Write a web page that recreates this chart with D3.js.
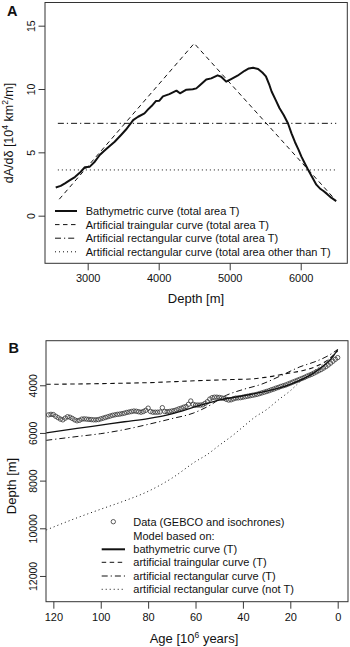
<!DOCTYPE html>
<html>
<head>
<meta charset="utf-8">
<script src="https://cdn.jsdelivr.net/npm/d3@7"></script>
<style>
  body { margin: 0; background: white; }
  svg { display: block; }
  text { font-family: "Liberation Sans", Arial, Helvetica, sans-serif; fill: #111; }
</style>
</head>
<body>
<div id="container"></div>
<script>
let w = 350;
let h = 647;

// PANEL A DATA: depth [m], dA/d-delta [10^4 km^2/m]
let bathyDepth = [2550,2620,2680,2750,2820,2900,2960,3030,3100,3170,3230,3290,3380,3470,3540,3590,3640,3710,3800,3860,3900,3960,4010,4060,4150,4250,4300,4390,4480,4530,4580,4670,4740,4830,4880,4950,5020,5110,5210,5270,5330,5400,5460,5510,5560,5590,5650,5700,5760,5820,5870,5920,5970,6010,6060,6100,6170,6220,6270,6320,6370,6430,6500];
let bathyValue = [2.23,2.35,2.55,2.8,3.05,3.45,3.82,3.87,4.26,4.79,5.1,5.4,5.84,6.37,6.8,7.16,7.55,7.81,8.08,8.45,8.65,9.05,9.08,9.42,9.6,9.87,9.66,9.95,9.98,10.05,10.3,10.75,10.84,11.08,10.97,10.58,10.78,11.05,11.44,11.62,11.68,11.58,11.3,11.0,10.3,9.8,9.1,8.5,7.95,7.3,6.5,5.8,5.2,4.66,4.1,3.66,2.95,2.45,2.15,1.95,1.72,1.42,1.15];
let triDepth = [2600,4500,6480];
let triValue = [1.3,13.6,1.3];
let rectDepth = [2580,6500];
let rectTValue = 7.29;
let rectNotTValue = 3.61;
let xTicksA = [3000,4000,5000,6000];
let yTicksA = [0,5,10,15];
let legendA = [
  "Bathymetric curve (total area T)",
  "Artificial traingular curve (total area T)",
  "Artificial rectangular curve (total area T)",
  "Artificial rectangular curve (total area other than T)"
];

// PANEL B DATA: age [10^6 years], depth [m]
let dataAge = d3.range(122, -1, -1);
let dataDepth = [5240,5220,5230,5300,5360,5420,5450,5380,5320,5340,5390,5450,5490,5470,5420,5410,5420,5430,5440,5450,5450,5440,5410,
  5380,5350,5320,5290,5260,5240,5220,5210,5190,5170,5140,5120,5100,5080,5090,5110,5130,5100,5050,4960,5100,5130,5130,5130,5120,4940,
  5100,5110,5100,5080,5060,5030,4990,4960,4920,4890,4800,4660,4800,4830,4830,4830,4820,4760,4690,4580,4520,4500,4500,4510,4530,4550,
  4590,4620,4610,4570,4540,4530,4520,4500,4480,4460,4440,4420,4400,4380,4350,4320,4290,4260,4230,4190,4160,4120,4090,4050,4020,3990,
  3950,3910,3870,3830,3790,3750,3710,3670,3620,3580,3540,3490,3440,3390,3340,3280,3220,3150,3070,2990,2910,2840];
let bathyModelAge = [123,110,100,90,80,70,60,50,40,30,20,10,5,2,0];
let bathyModelDepth = [6000,5810,5670,5530,5400,5200,4900,4620,4440,4250,3960,3480,3100,2800,2500];
let triModelAge = [123,100,80,60,45,37,30,20,15,9,3,0];
let triModelDepth = [3960,3930,3890,3810,3760,3740,3660,3480,3390,3200,2850,2560];
let rectModelAge = [123,110,100,90,80,70,61,55,47,40,32,24,16,9,4,0];
let rectModelDepth = [6310,6150,6030,5860,5640,5400,5170,4900,4420,4180,3950,3600,3230,2990,2760,2500];
let notTModelAge = [123,110,100,90,80,70,60,55,50,44,40,35,30,25,20,16,12,8,4,0];
let notTModelDepth = [10070,9560,9200,8850,8450,7900,7200,6900,6520,6080,5750,5340,5020,4610,4230,3860,3550,3250,2920,2520];
let xTicksB = [120,100,80,60,40,20,0];
let yTicksB = [4000,6000,8000,10000,12000];
let legendB = [
  "Data (GEBCO and isochrones)",
  "Model based on:",
  "bathymetric curve (T)",
  "artificial traingular curve (T)",
  "artificial rectangular curve (T)",
  "artificial rectangular curve (not T)"
];

let dashStyles = [null, "4.5,3.5", "6,3,1.2,3", "1,3"];

let viz = d3.select("#container").append("svg")
    .attr("width", w)
    .attr("height", h)
;

function styleAxis(g, fontSize) {
  g.select(".domain").remove();
  g.selectAll("line").attr("stroke", "#222").attr("stroke-width", 0.9);
  g.selectAll("text").attr("font-size", fontSize).attr("fill", "#111")
    .style("font-family", "'Liberation Sans', Arial, sans-serif");
}

// ---------------- PANEL A ----------------
let xA = d3.scaleLinear().domain([2399, 6656]).range([45, 347.3]);
let yA = d3.scaleLinear().domain([-3.76, 16.83]).range([263.3, 2.5]);

let axA = viz.append("g").attr("transform", "translate(0,263.3)")
  .call(d3.axisBottom(xA).tickValues(xTicksA).tickSize(7).tickPadding(4).tickFormat(d3.format("d")));
styleAxis(axA, 11);

let ayA = viz.append("g").attr("transform", "translate(45,0)")
  .call(d3.axisLeft(yA).tickValues(yTicksA).tickSize(6.5));
styleAxis(ayA, 10.5);
ayA.selectAll("text")
  .attr("transform", "rotate(-90)")
  .attr("x", 0).attr("y", -10).attr("dy", 0)
  .attr("text-anchor", "middle");

let lineA = d3.line().x(d => xA(d[0])).y(d => yA(d[1]));

viz.append("path")
  .datum(d3.zip(rectDepth, [rectNotTValue, rectNotTValue]))
  .attr("d", lineA).attr("fill", "none").attr("stroke", "#111").attr("stroke-width", 1)
  .attr("stroke-dasharray", dashStyles[3]);
viz.append("path")
  .datum(d3.zip(rectDepth, [rectTValue, rectTValue]))
  .attr("d", lineA).attr("fill", "none").attr("stroke", "#111").attr("stroke-width", 1)
  .attr("stroke-dasharray", dashStyles[2]);
viz.append("path")
  .datum(d3.zip(triDepth, triValue))
  .attr("d", lineA).attr("fill", "none").attr("stroke", "#111").attr("stroke-width", 1)
  .attr("stroke-dasharray", dashStyles[1]);
viz.append("path")
  .datum(d3.zip(bathyDepth, bathyValue))
  .attr("d", lineA).attr("fill", "none").attr("stroke", "#111").attr("stroke-width", 2)
  .attr("stroke-linejoin", "round");

viz.append("rect")
  .attr("x", 45).attr("y", 2.5).attr("width", 302.3).attr("height", 260.8)
  .attr("fill", "none").attr("stroke", "#333").attr("stroke-width", 1);

// legend A
let legA = viz.append("g");
legendA.forEach(function(t, i) {
  let yy = 211 + i * 13.6;
  legA.append("line")
    .attr("x1", 55).attr("x2", 77).attr("y1", yy).attr("y2", yy)
    .attr("stroke", "#111").attr("stroke-width", i == 0 ? 2 : 1)
    .attr("stroke-dasharray", dashStyles[i]);
  legA.append("text").attr("x", 85.7).attr("y", yy).attr("dy", "0.36em")
    .attr("font-size", 11).text(t);
});

viz.append("text").attr("x", 196).attr("y", 303).attr("text-anchor", "middle")
  .attr("font-size", 13).text("Depth [m]");

let ytA = viz.append("text")
  .attr("transform", "translate(13,133) rotate(-90)")
  .attr("text-anchor", "middle").attr("font-size", 12.5);
ytA.append("tspan").text("dA/d\u03b4 [10");
ytA.append("tspan").attr("font-size", 8.5).attr("dy", -5).text("4");
ytA.append("tspan").attr("dy", 5).text(" km");
ytA.append("tspan").attr("font-size", 8.5).attr("dy", -5).text("2");
ytA.append("tspan").attr("dy", 5).text("/m]");

viz.append("text").attr("x", 7).attr("y", 15.5).attr("font-size", 14.5)
  .attr("font-weight", "bold").text("A");

// ---------------- PANEL B ----------------
let xB = d3.scaleLinear().domain([123.1, -4.35]).range([46, 348]);
let yB = d3.scaleLinear().domain([2130, 13080]).range([340.7, 601.7]);

let axB = viz.append("g").attr("transform", "translate(0,601.7)")
  .call(d3.axisBottom(xB).tickValues(xTicksB).tickSize(7).tickPadding(5));
styleAxis(axB, 11);

let ayB = viz.append("g").attr("transform", "translate(46,0)")
  .call(d3.axisLeft(yB).tickValues(yTicksB).tickSize(6).tickFormat(d3.format("d")));
styleAxis(ayB, 10.5);
ayB.selectAll("text")
  .attr("transform", "rotate(-90)")
  .attr("x", 0).attr("y", -9.5).attr("dy", 0)
  .attr("text-anchor", "middle");

let lineB = d3.line().x(d => xB(d[0])).y(d => yB(d[1])).curve(d3.curveMonotoneX);

viz.append("path")
  .datum(d3.zip(notTModelAge, notTModelDepth))
  .attr("d", lineB).attr("fill", "none").attr("stroke", "#111").attr("stroke-width", 1)
  .attr("stroke-dasharray", dashStyles[3]);
viz.append("path")
  .datum(d3.zip(rectModelAge, rectModelDepth))
  .attr("d", lineB).attr("fill", "none").attr("stroke", "#111").attr("stroke-width", 1)
  .attr("stroke-dasharray", dashStyles[2]);
viz.append("path")
  .datum(d3.zip(triModelAge, triModelDepth))
  .attr("d", lineB).attr("fill", "none").attr("stroke", "#111").attr("stroke-width", 1.1)
  .attr("stroke-dasharray", dashStyles[1]);

viz.append("g").selectAll("circle")
  .data(d3.zip(dataAge, dataDepth)).enter()
  .append("circle")
    .attr("cx", d => xB(d[0]))
    .attr("cy", d => yB(d[1]))
    .attr("r", 2.2)
    .attr("fill", "none")
    .attr("stroke", "#333")
    .attr("stroke-width", 0.8)
;

viz.append("path")
  .datum(d3.zip(bathyModelAge, bathyModelDepth))
  .attr("d", lineB).attr("fill", "none").attr("stroke", "#111").attr("stroke-width", 1.3);

viz.append("rect")
  .attr("x", 46).attr("y", 340.7).attr("width", 302).attr("height", 261)
  .attr("fill", "none").attr("stroke", "#333").attr("stroke-width", 1);

// legend B
let legRowsB = [521.7, 535.7, 549.3, 562.3, 576, 589.3];
let legB = viz.append("g");
legendB.forEach(function(t, i) {
  let yy = legRowsB[i];
  if (i == 0) {
    legB.append("circle").attr("cx", 113.3).attr("cy", yy).attr("r", 2.2)
      .attr("fill", "none").attr("stroke", "#333").attr("stroke-width", 0.8);
  } else if (i > 1) {
    legB.append("line")
      .attr("x1", 101.7).attr("x2", 125).attr("y1", yy).attr("y2", yy)
      .attr("stroke", "#111").attr("stroke-width", i == 2 ? 2 : 1)
      .attr("stroke-dasharray", dashStyles[i - 2]);
  }
  legB.append("text").attr("x", 133.3).attr("y", yy).attr("dy", "0.36em")
    .attr("font-size", 11).text(t);
});

let xtB = viz.append("text").attr("x", 194).attr("y", 642.5)
  .attr("text-anchor", "middle").attr("font-size", 13);
xtB.append("tspan").text("Age [10");
xtB.append("tspan").attr("font-size", 8.5).attr("dy", -5).text("6");
xtB.append("tspan").attr("dy", 5).text(" years]");

viz.append("text")
  .attr("transform", "translate(15.5,486) rotate(-90)")
  .attr("text-anchor", "middle").attr("font-size", 13).text("Depth [m]");

viz.append("text").attr("x", 8.5).attr("y", 352.5).attr("font-size", 14.5)
  .attr("font-weight", "bold").text("B");
</script>
</body>
</html>
